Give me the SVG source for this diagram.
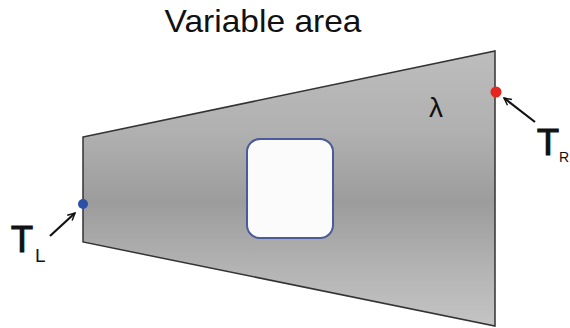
<svg xmlns="http://www.w3.org/2000/svg" width="570" height="328" viewBox="0 0 570 328">
<defs>
<linearGradient id="g" x1="0" y1="0" x2="0" y2="1" gradientUnits="objectBoundingBox">
<stop offset="0" stop-color="#bdbdbd"/>
<stop offset="0.3" stop-color="#b0b0b0"/>
<stop offset="0.55" stop-color="#9c9c9c"/>
<stop offset="0.8" stop-color="#b4b4b4"/>
<stop offset="1" stop-color="#c4c4c4"/>
</linearGradient>
<marker id="ah" viewBox="0 0 10 10" refX="9" refY="5" markerWidth="9" markerHeight="9" orient="auto" markerUnits="userSpaceOnUse">
<path d="M1,1 L9,5 L1,9" fill="none" stroke="#111" stroke-width="1.6"/>
</marker>
<style>
.lab{font-family:"Liberation Sans",Arial,sans-serif;fill:#111}
.big{font-size:36px;stroke:#111;stroke-width:1.2}
.arr{stroke:#111;stroke-width:2.2;fill:none;marker-end:url(#ah)}
</style>
</defs>
<rect width="570" height="328" fill="#ffffff"/>
<text class="lab" x="263" y="32" font-size="32" text-anchor="middle" textLength="197" lengthAdjust="spacingAndGlyphs">Variable area</text>
<g id="plate">
<path d="M83,137 L495,51 L495,326 L83,242 Z" fill="url(#g)" stroke="#333" stroke-width="1.5"/>
<rect x="247" y="139" width="86" height="99" rx="13" ry="13" fill="#fbfbfb" stroke="#4a5a9a" stroke-width="2"/>
<text class="lab" x="436" y="117" font-size="28" text-anchor="middle">λ</text>
</g>
<g id="TL">
<circle cx="83" cy="204" r="5" fill="#2c4fa8"/>
<text class="lab big" x="22" y="252" text-anchor="middle">T</text>
<text class="lab" x="35" y="262" font-size="19">L</text>
</g>
<g id="TR">
<circle cx="496" cy="92" r="5.5" fill="#e4261e"/>
<text class="lab big" x="548" y="155" text-anchor="middle">T</text>
<text class="lab" x="559" y="162" font-size="14">R</text>
</g>
<g id="connectors">
<path class="arr" d="M50,236 L75,213"/>
<path class="arr" d="M535,122 L504,98"/>
</g>
</svg>
